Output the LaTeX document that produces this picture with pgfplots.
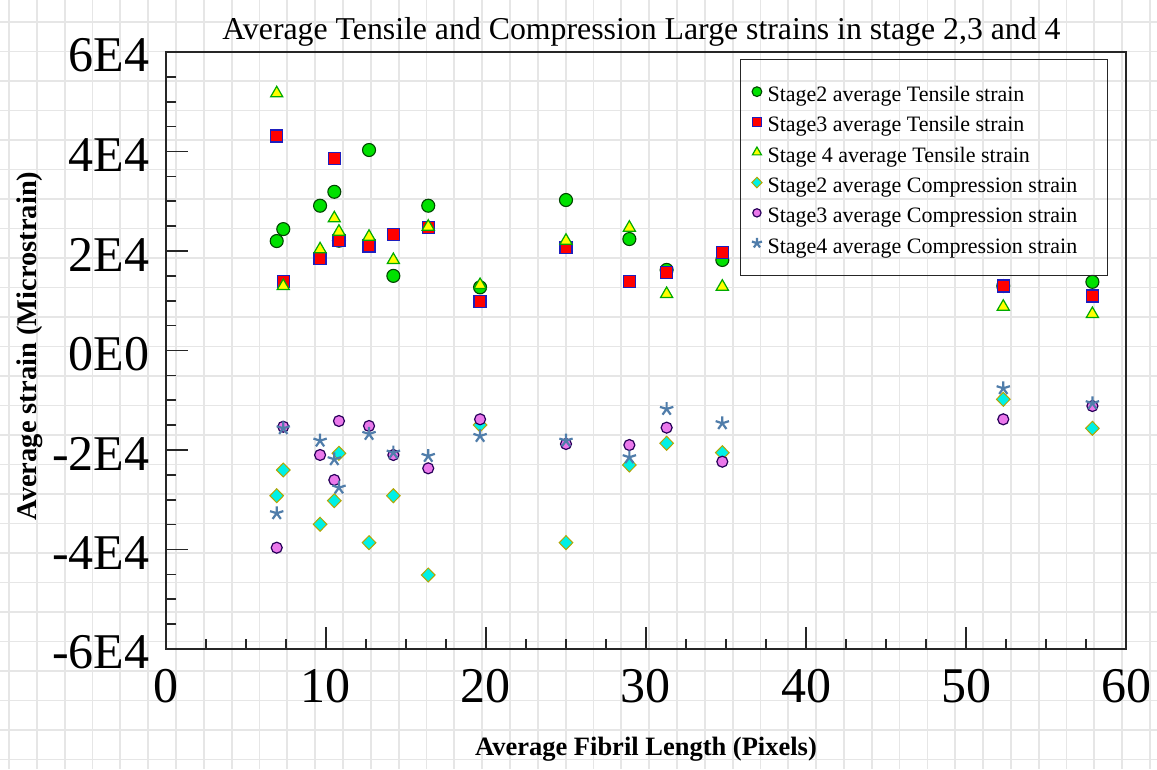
\documentclass[border=0pt]{standalone}
\usepackage{fontspec}
\setmainfont{Liberation Serif}
\usepackage{pgfplots}
\usepackage{pgfplotstable}
\pgfplotsset{compat=1.18}
\usetikzlibrary{plotmarks}
\definecolor{gridgray}{RGB}{230,230,230}
\definecolor{cGreen}{RGB}{0,225,0}
\definecolor{cGreenD}{RGB}{0,70,0}
\definecolor{cRed}{RGB}{255,0,0}
\definecolor{cBlue}{RGB}{30,30,190}
\definecolor{cYel}{RGB}{255,255,0}
\definecolor{cTriD}{RGB}{0,170,0}
\definecolor{cCyan}{RGB}{0,240,230}
\definecolor{cOlive}{RGB}{180,165,0}
\definecolor{cViol}{RGB}{235,120,235}
\definecolor{cViolD}{RGB}{40,0,90}
\definecolor{cStar}{RGB}{80,125,170}
\definecolor{cStarD}{RGB}{60,140,150}

\pgfplotstableread{
x      sTa   sTb   sTc   sCa    sCb    sCc
6.92   22000 43100 51700 -29190 -39640 -32720
7.33   24400 13830 12960 -24020 -15320 -15640
9.63   29100 18530 20340 -34930 -21000 -18130
10.52  31900 38630 26570 -30190 -26030 -21870
10.81  22070 22070 23880 -20660 -14170 -27570
12.69  40300 21000 22870 -38630 -15170 -16780
14.21  15000 23350 18190 -29190 -21000 -20540
16.39  29100 24690 24890 -45120 -23680 -21210
19.63  12700 9810  13170 -14970 -13830 -17190
25.00  30250 20740 22070 -38630 -18790 -18130
28.96  22400 13830 24690 -23010 -19000 -21470
31.29  16200 15640 11360 -18650 -15510 -11760
34.77  18200 19740 12830 -20540 -22350 -14630
52.33  12960 12960 8800  -9810  -13830 -7600
57.90  13800 10950 7340  -15640 -11160 -10610
}\datatable

\begin{document}
\begin{tikzpicture}[x=1pt,y=1pt]
\fill[white] (-166,-120) rectangle (991,649);
\begin{scope}
\clip (-166,-120) rectangle (991,649);
\foreach \k in {-6,...,35} {\draw[gridgray, line width=1.8pt] ({10+27.83*\k},-120) -- ({10+27.83*\k},649);}
\foreach \k in {0,...,25} {\draw[gridgray, line width=1.8pt] (-166,{627-29.5*\k}) -- (991,{627-29.5*\k});}
\end{scope}
\begin{axis}[
  at={(0,0)}, anchor=south west,
  scale only axis, width=960pt, height=597pt,
  xmin=0, xmax=60, ymin=-60000, ymax=60000,
  axis line style={black!85, line width=1.6pt},
  every tick/.style={black!85, line width=1.6pt},
  tick align=inside, tick pos=left,
  major tick length=22pt, minor tick length=10pt,
  xtick={0,10,...,60}, xticklabels={0,10,20,30,40,50,60},
  minor x tick num=3,
  ytick={-60000,-40000,...,60000},
  yticklabels={-6E4,-4E4,-2E4,0E0,2E4,4E4,6E4},
  minor y tick num=3,
  scaled y ticks=false,
  /pgf/number format/assume math mode=true,
  ticklabel style={font=\fontsize{50}{50}\selectfont},
  xticklabel style={yshift=-17pt},
  yticklabel style={xshift=-13pt, yshift=-3.5pt},
  title={Average Tensile and Compression Large strains in stage 2,3 and 4},
  title style={font=\fontsize{31.8}{31.8}\selectfont, at={(0.4953,1.0117)}, anchor=base},
  xlabel={Average Fibril Length (Pixels)},
  xlabel style={font=\fontsize{26.5}{26.5}\selectfont\bfseries, at={(0.5,-0.1776)}, anchor=base},
  ylabel={Average strain (Microstrain)},
  ylabel style={font=\fontsize{28.5}{28.5}\selectfont\bfseries, at={(-0.1344,0.5075)}, anchor=base},
  legend cell align=left,
  legend image code/.code={\path (0pt,0pt) (12pt,0pt); \draw[#1, every mark/.append style={scale=0.75}] plot coordinates {(6pt,0pt)};},
  legend style={at={(0.98125,0.98827)}, anchor=north east, draw=black!85, line width=1.3pt, fill=none,
    font=\fontsize{22}{22}\selectfont, inner xsep=10pt, inner ysep=22pt, row sep=10.3pt,
    nodes={inner xsep=4pt, inner ysep=0pt, text height=20pt, text depth=0pt}},
]
\addplot[only marks, mark=*, mark size=6.5pt, mark options={fill=cGreen, draw=cGreenD, line width=1.1pt}] table[x=x,y=sTa]{\datatable};
\addlegendentry{Stage2 average Tensile strain\hspace*{16pt}}
\addplot[only marks, mark=square*, mark size=6pt, mark options={fill=cRed, draw=cBlue, line width=1.2pt}] table[x=x,y=sTb]{\datatable};
\addlegendentry{Stage3 average Tensile strain\hspace*{16pt}}
\addplot[only marks, mark=triangle*, mark size=7pt, mark options={fill=cYel, draw=cTriD, line width=1.2pt}] table[x=x,y=sTc]{\datatable};
\addlegendentry{Stage 4 average Tensile strain\hspace*{16pt}}
\addplot[only marks, mark=diamond*, mark size=7pt, mark options={fill=cCyan, draw=cOlive, line width=1.0pt, xscale=1.3}] table[x=x,y=sCa]{\datatable};
\addlegendentry{Stage2 average Compression strain\hspace*{16pt}}
\addplot[only marks, mark=*, mark size=5.5pt, mark options={fill=cViol, draw=cViolD, line width=1.2pt}] table[x=x,y=sCb]{\datatable};
\addlegendentry{Stage3 average Compression strain\hspace*{16pt}}
\addplot[only marks, mark=star, mark size=7pt, mark options={draw=cStar, line width=2.2pt}] table[x=x,y=sCc]{\datatable};
\addlegendentry{Stage4 average Compression strain\hspace*{16pt}}
\end{axis}
\end{tikzpicture}
\end{document}
